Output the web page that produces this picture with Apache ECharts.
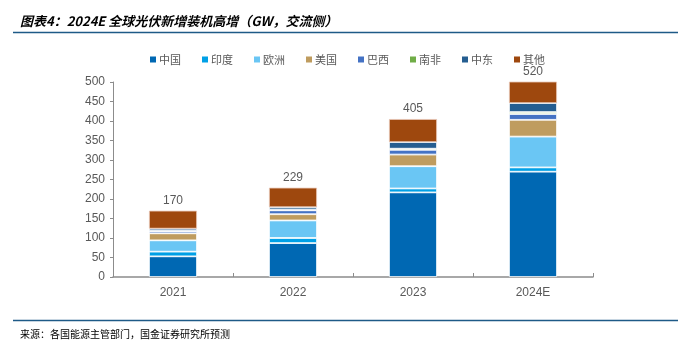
<!DOCTYPE html>
<html>
<head>
<meta charset="utf-8">
<script src="https://cdn.jsdelivr.net/npm/echarts@6/dist/echarts.min.js"></script>
<style>html,body{margin:0;padding:0;background:#fff;}#c{width:678px;height:341px;}</style>
</head>
<body>
<div id="c"></div>
<script>
var categories = ['2021', '2022', '2023', '2024E'];
var china = [53, 87, 217, 270];
var india = [12, 13, 10, 11];
var europe = [29, 45, 57, 79];
var usa = [18, 16, 30, 43];
var brazil = [5, 10, 12, 15];
var southAfrica = [2, 2, 3, 5];
var middleEast = [5, 6, 17, 23];
var other = [46, 50, 59, 74];
var totals = [170, 229, 405, 520];
var yTicks = [0, 50, 100, 150, 200, 250, 300, 350, 400, 450, 500];

var names = ['中国', '印度', '欧洲', '美国', '巴西', '南非', '中东', '其他'];
var colors = ['#0068B3', '#00A0E6', '#6AC6F4', '#BF9C5F', '#4472C4', '#70AD47', '#255E91', '#9E480E'];
var datas = [china, india, europe, usa, brazil, southAfrica, middleEast, other];

var series = names.map(function (n, i) {
  var s = {
    name: n,
    type: 'bar',
    stack: 'total',
    barWidth: '40%',
    clip: true,
    data: datas[i],
    itemStyle: { color: colors[i], borderColor: '#ffffff', borderWidth: 0.8 },
    emphasis: { disabled: true }
  };
  if (i === names.length - 1) {
    s.itemStyle.borderColor = '#E8C8B8';
    s.label = {
      show: true,
      position: 'top',
      distance: 4,
      color: '#595959',
      fontSize: 12,
      fontFamily: 'Liberation Sans, Arial, sans-serif',
      formatter: function (p) { return totals[p.dataIndex]; }
    };
  }
  return s;
});

var chart = echarts.init(document.getElementById('c'), null, { renderer: 'canvas' });
chart.setOption({
  animation: false,
  backgroundColor: '#ffffff',
  color: colors,
  title: [{
    text: '图表4：2024E 全球光伏新增装机高增（GW，交流侧）',
    left: 15, top: 10,
    textStyle: { fontSize: 13, fontWeight: 'bold', fontStyle: 'italic', color: '#000000', fontFamily: 'Noto Sans CJK SC' }
  }, {
    text: '来源：各国能源主管部门，国金证券研究所预测',
    left: 15, top: 324,
    textStyle: { fontSize: 10, fontWeight: 'normal', color: '#000000', fontFamily: 'Noto Sans CJK SC' }
  }],
  graphic: [
    { type: 'line', shape: { x1: 13, y1: 32.5, x2: 678, y2: 32.5 }, style: { stroke: '#1E5A87', lineWidth: 1.5 } },
    { type: 'line', shape: { x1: 13, y1: 320.5, x2: 678, y2: 320.5 }, style: { stroke: '#1E5A87', lineWidth: 1.5 } }
  ],
  legend: {
    data: names,
    left: 145, top: 49,
    itemWidth: 6, itemHeight: 6, itemGap: 21,
    icon: 'rect',
    itemStyle: { borderWidth: 0 },
    textStyle: { fontSize: 11, color: '#595959', fontFamily: 'Noto Sans CJK SC', padding: [0, 0, 0, -2] }
  },
  grid: { left: 113, right: 85, top: 82, bottom: 64, containLabel: false },
  xAxis: {
    type: 'category',
    data: categories,
    axisLine: { lineStyle: { color: '#8C8C8C', width: 1.5 } },
    axisTick: { show: true, inside: true, length: 4, lineStyle: { color: '#8C8C8C' } },
    axisLabel: { color: '#595959', fontSize: 12, margin: 10, fontFamily: 'Liberation Sans, Arial, sans-serif' }
  },
  yAxis: {
    type: 'value',
    min: 0, max: 500, interval: 50,
    splitLine: { show: false },
    axisLine: { show: true, lineStyle: { color: '#8C8C8C', width: 1 } },
    axisTick: { show: true, length: 3, lineStyle: { color: '#8C8C8C' } },
    axisLabel: {
      color: '#595959', fontSize: 12, margin: 8, fontFamily: 'Liberation Sans, Arial, sans-serif',
      formatter: function (v) { return yTicks.indexOf(v) >= 0 ? String(v) : ''; }
    }
  },
  series: series
});
</script>
</body>
</html>
